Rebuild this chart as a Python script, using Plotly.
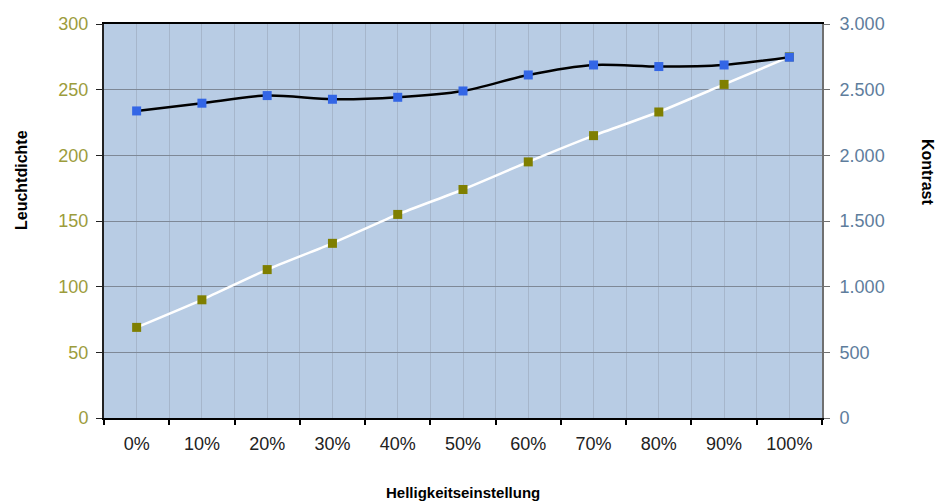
import plotly.graph_objects as go

categories = ["0%", "10%", "20%", "30%", "40%", "50%", "60%", "70%", "80%", "90%", "100%"]
leuchtdichte = [69, 90, 113, 133, 155, 174, 195, 215, 233, 254, 275]
kontrast = [2338, 2397, 2455, 2427, 2442, 2490, 2612, 2688, 2676, 2688, 2747]
left_ticks = [0, 50, 100, 150, 200, 250, 300]
right_ticks = [0, 500, 1000, 1500, 2000, 2500, 3000]

xpos = list(range(len(categories)))
bounds = [i - 0.5 for i in range(len(categories) + 1)]

fig = go.Figure()
fig.add_trace(go.Scatter(
    x=xpos, y=leuchtdichte, mode="lines+markers", name="Leuchtdichte",
    line=dict(color="white", width=2.5, shape="spline", smoothing=0.6),
    marker=dict(symbol="square", size=9, color="#7F7F00"),
    yaxis="y",
))
fig.add_trace(go.Scatter(
    x=xpos, y=kontrast, mode="lines+markers", name="Kontrast",
    line=dict(color="black", width=2.5, shape="spline", smoothing=0.8),
    marker=dict(symbol="square", size=9, color="#3366E6"),
    yaxis="y2",
))

fnt = "Liberation Sans, Arial, sans-serif"
fig.update_layout(
    width=942, height=503,
    margin=dict(l=104, r=120, t=24, b=85),
    paper_bgcolor="white",
    plot_bgcolor="#B8CCE4",
    showlegend=False,
    separators=",.",
    font=dict(family=fnt, size=13, color="black"),
    xaxis=dict(
        range=[-0.5, 10.5],
        tickvals=xpos, ticktext=categories,
        ticks="", showgrid=True, gridcolor="#A6B6CB", gridwidth=1,
        showline=True, linecolor="black", linewidth=2, mirror=True,
        zeroline=False, ticklabelstandoff=8,
        tickfont=dict(color="#222222", size=18),
        minor=dict(tickvals=bounds, ticks="outside", ticklen=5, tickcolor="black",
                   tickwidth=2, showgrid=True, gridcolor="#A6B6CB", gridwidth=1),
        fixedrange=True,
    ),
    yaxis=dict(
        range=[0, 300], tickvals=left_ticks,
        showgrid=True, gridcolor="#7E8896", gridwidth=1,
        showline=True, linecolor="#222222", linewidth=2,
        ticks="outside", ticklen=6, tickcolor="#222222",
        tickfont=dict(color="#9C9C3C", size=18), ticklabelstandoff=4,
        zeroline=False, fixedrange=True,
    ),
    yaxis2=dict(
        range=[0, 3000], tickvals=right_ticks, tickformat=",d",
        overlaying="y", side="right",
        showgrid=False, showline=True, linecolor="#707070", linewidth=2,
        ticks="outside", ticklen=6, tickcolor="#707070",
        tickfont=dict(color="#5E7D9C", size=18), ticklabelstandoff=6,
        zeroline=False, fixedrange=True,
    ),
    annotations=[
        dict(text="<b>Leuchtdichte</b>", x=0, y=0.5, xref="paper", yref="paper",
             textangle=-90, showarrow=False, font=dict(size=16, family=fnt),
             xanchor="center", yanchor="middle"),
        dict(text="<b>Kontrast</b>", x=1, y=0.5, xref="paper", yref="paper",
             textangle=90, showarrow=False, font=dict(size=16, family=fnt),
             xanchor="center", yanchor="middle"),
        dict(text="<b>Helligkeitseinstellung</b>", x=0.5, y=0, xref="paper", yref="paper",
             showarrow=False, font=dict(size=15, family=fnt),
             xanchor="center", yanchor="middle"),
    ],
)
pw = 942 - 104 - 120
ph = 503 - 24 - 85
fig.layout.annotations[0].x = (21 - 104) / pw
fig.layout.annotations[0].y = (418 - 180) / ph
fig.layout.annotations[1].x = (928 - 104) / pw
fig.layout.annotations[1].y = (418 - 172) / ph
fig.layout.annotations[2].x = (463 - 104) / pw
fig.layout.annotations[2].y = (418 - 492) / ph

fig.write_html("out.html")
